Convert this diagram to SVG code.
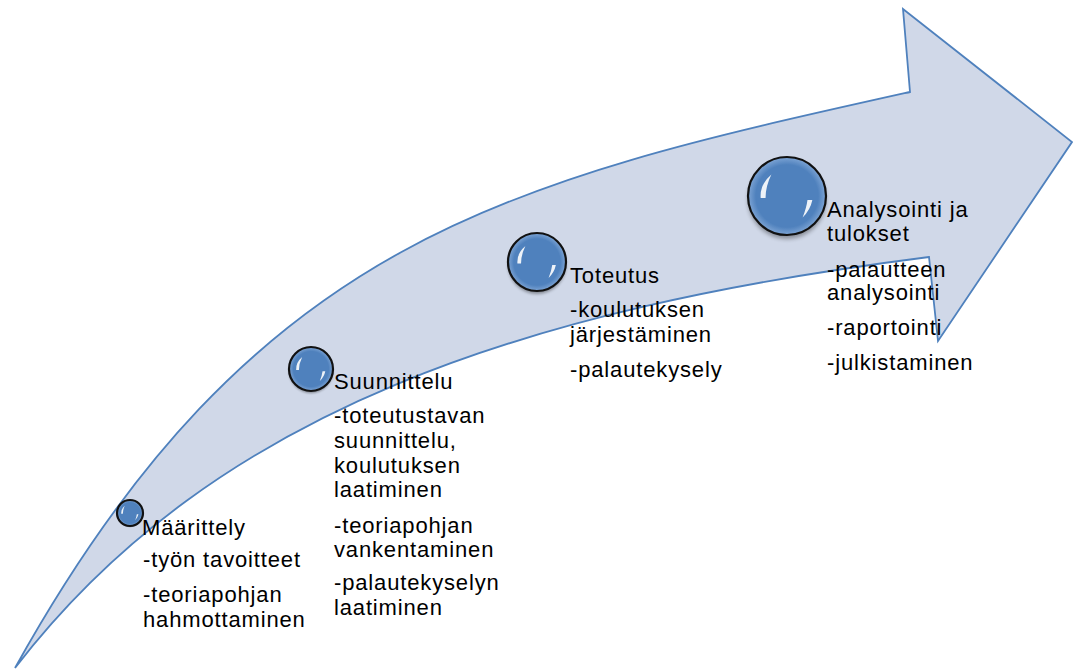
<svg xmlns="http://www.w3.org/2000/svg" xmlns:xlink="http://www.w3.org/1999/xlink" width="1073" height="670" viewBox="0 0 1073 670">
<style>
.lbl{font-family:"Liberation Sans",Arial,sans-serif;font-size:22px;fill:#000;letter-spacing:0.85px}
.arrow{fill:#d0d8e8;stroke:#4f81bd;stroke-width:1.8;stroke-linejoin:miter}
.body{fill:url(#sg);stroke:#111;stroke-width:2.2}
.hl{fill:#fff;opacity:0.9}
</style>
<defs>
<radialGradient id="sg" cx="50%" cy="50%" r="50%">
<stop offset="0" stop-color="#4f81bd"/>
<stop offset="0.8" stop-color="#4f81bd"/>
<stop offset="1" stop-color="#7ea5d5"/>
</radialGradient>
<filter id="blur" x="-50%" y="-50%" width="200%" height="200%"><feGaussianBlur stdDeviation="2"/></filter>
<filter id="soft" x="-50%" y="-50%" width="200%" height="200%"><feGaussianBlur stdDeviation="0.6"/></filter>
<g id="sphere">
<circle cx="0" cy="4" r="40" fill="#000" opacity="0.35" filter="url(#blur)"/>
<circle class="body" cx="0" cy="0" r="40" vector-effect="non-scaling-stroke"/>
<path class="hl" d="M-27,2 Q-28,-12 -16,-22 Q-22,-10 -22,2 Z" filter="url(#soft)"/>
<path class="hl" d="M26,4 Q24,14 16,22 Q20,12 21,4 Z" filter="url(#soft)"/>
</g>
</defs>
<g id="arrow">
<path class="arrow" d="M15,668 C255,236 510,181 910,92 L903,9 L1072,142 L938,341 L929,257 C529,308 215,408 15,668 Z"/>
</g>
<g id="connectors"></g>
<g id="node-maarittely">
<use xlink:href="#sphere" href="#sphere" transform="translate(130,513) scale(0.325)"/>
<text class="lbl" x="142" y="535">Määrittely</text>
<text class="lbl" x="143" y="567">-työn tavoitteet</text>
<text class="lbl" x="143" y="602">-teoriapohjan</text>
<text class="lbl" x="143" y="627">hahmottaminen</text>
</g>
<g id="node-suunnittelu">
<use xlink:href="#sphere" href="#sphere" transform="translate(311,369) scale(0.55)"/>
<text class="lbl" x="334" y="389">Suunnittelu</text>
<text class="lbl" x="334" y="423">-toteutustavan</text>
<text class="lbl" x="334" y="448">suunnittelu,</text>
<text class="lbl" x="334" y="473">koulutuksen</text>
<text class="lbl" x="334" y="497">laatiminen</text>
<text class="lbl" x="334" y="533">-teoriapohjan</text>
<text class="lbl" x="334" y="557">vankentaminen</text>
<text class="lbl" x="334" y="590">-palautekyselyn</text>
<text class="lbl" x="334" y="615">laatiminen</text>
</g>
<g id="node-toteutus">
<use xlink:href="#sphere" href="#sphere" transform="translate(537,262) scale(0.725)"/>
<text class="lbl" x="570" y="283">Toteutus</text>
<text class="lbl" x="570" y="317">-koulutuksen</text>
<text class="lbl" x="570" y="342">järjestäminen</text>
<text class="lbl" x="570" y="377">-palautekysely</text>
</g>
<g id="node-analysointi">
<use xlink:href="#sphere" href="#sphere" transform="translate(787,196) scale(0.975)"/>
<text class="lbl" x="827" y="217">Analysointi ja</text>
<text class="lbl" x="827" y="241">tulokset</text>
<text class="lbl" x="827" y="277">-palautteen</text>
<text class="lbl" x="827" y="300">analysointi</text>
<text class="lbl" x="827" y="335">-raportointi</text>
<text class="lbl" x="827" y="370">-julkistaminen</text>
</g>
</svg>
